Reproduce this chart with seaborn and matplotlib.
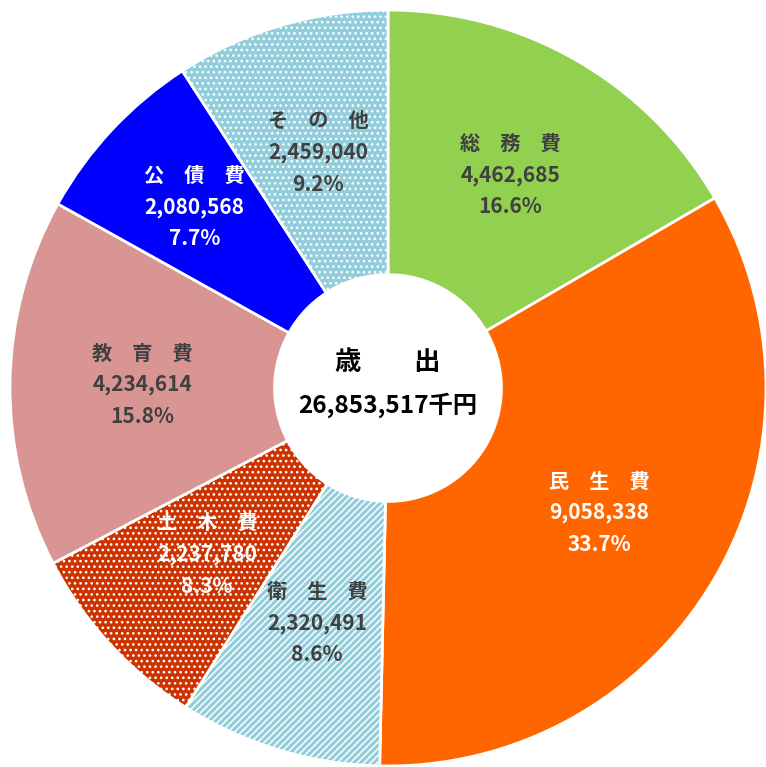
import matplotlib
matplotlib.use("Agg")
import matplotlib.pyplot as plt
import numpy as np
import seaborn as sns

# Expenditure breakdown (thousand yen)
categories = ["総務費", "民生費", "衛生費", "土木費", "教育費", "公債費", "その他"]
amounts = [4462685, 9058338, 2320491, 2237780, 4234614, 2080568, 2459040]
percents = ["16.6%", "33.7%", "8.6%", "8.3%", "15.8%", "7.7%", "9.2%"]
total_label = "26,853,517千円"
center_title = "歳\u3000\u3000出"

colors = ["#92D050", "#FF6600", "#92CDDC", "#CC3300", "#D99594", "#0000FF", "#92CDDC"]
hatches = [None, None, "/////", "...", None, None, "..."]
text_colors = ["#404040", "white", "#404040", "white", "#404040", "white", "#404040"]

sns.set_theme(style="white")
plt.rcParams["font.family"] = ["Noto Sans CJK JP", "DejaVu Sans"]
plt.rcParams["hatch.linewidth"] = 1.1

fig = plt.figure(figsize=(7.66, 7.67), dpi=100)
ax = fig.add_axes([0, 0, 1, 1])

wedges, _ = ax.pie(
    amounts,
    colors=colors,
    startangle=90,
    counterclock=False,
    radius=1.0,
    wedgeprops=dict(width=0.70, edgecolor="white", linewidth=2),
)
for w, h in zip(wedges, hatches):
    if h:
        w.set_hatch(h)

ax.set_xlim(-388 / 378, 1.0)
ax.set_ylim(-379 / 378, 388 / 378)
ax.set_aspect("equal")
ax.axis("off")

# Labels inside each wedge
step = 0.084
for w, name, amt, pct, tc in zip(wedges, categories, amounts, percents, text_colors):
    mid = np.deg2rad((w.theta1 + w.theta2) / 2)
    r = 0.70 if name == "公債費" else 0.65
    x, y = r * np.cos(mid), r * np.sin(mid)
    spaced = "\u3000".join(name)
    ax.text(x, y + step, spaced, ha="center", va="center", fontsize=14.5,
            fontweight="bold", color=tc)
    ax.text(x, y, f"{amt:,}", ha="center", va="center", fontsize=15,
            fontweight="bold", color=tc)
    ax.text(x, y - step, pct, ha="center", va="center", fontsize=15,
            fontweight="bold", color=tc)

# Centre total
ax.text(0, 0.068, center_title, ha="center", va="center", fontsize=19,
        fontweight="bold", color="black")
ax.text(0, -0.045, total_label, ha="center", va="center", fontsize=17.5,
        fontweight="bold", color="black")

fig.savefig("out.png", dpi=100)
